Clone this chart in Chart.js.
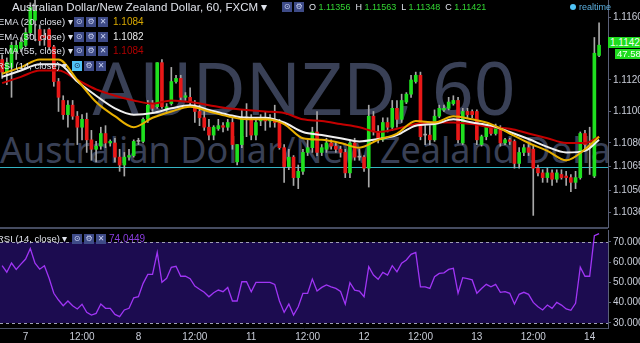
<!DOCTYPE html>
<html><head><meta charset="utf-8">
<script src="https://cdn.jsdelivr.net/npm/chart.js@4"></script>
<style>
html,body{margin:0;padding:0;background:#000;width:640px;height:343px;overflow:hidden;font-family:"Liberation Sans",Arial,sans-serif;}
#wrap{position:relative;width:640px;height:343px;overflow:hidden;background:#000}
.wm{position:absolute;left:0;width:608px;overflow:hidden;white-space:nowrap;text-align:center;color:#394056;font-family:"Noto Sans";z-index:0}
canvas{position:absolute;left:0;z-index:1}
.ov{position:absolute;z-index:3;white-space:nowrap;color:#dfe2ea;font-family:"Liberation Sans",Arial,sans-serif}
.ic{position:absolute;z-index:3;width:10px;height:10px;background:#3e4b87;color:#c8d0f0;font-family:"DejaVu Sans";font-size:8px;line-height:10px;text-align:center}
.ic.on{background:#4fc3f7;color:#1a2a4a}
.sep{position:absolute;z-index:2;background:#454b60}
.lbl{position:absolute;z-index:3;background:#1fdc1f;color:#f4fff4;font-size:10px;line-height:11px;font-family:"Liberation Sans",Arial,sans-serif}
</style></head>
<body><div id="wrap">
<div class="wm" style="top:50px;height:80px;font-size:73px;line-height:73px">AUDNZD, 60</div>
<div class="wm" style="top:132px;height:40px;font-size:36px;line-height:36px">Australian Dollar/New Zealand Dollar</div>
<canvas id="c1" width="640" height="228" style="top:0"></canvas>
<canvas id="c2" width="640" height="115" style="top:228px"></canvas>
<div class="sep" style="left:0;top:227px;width:608px;height:2px"></div>

<div class="ov" style="left:12px;top:0px;font-size:11.5px;line-height:14px">Australian Dollar/New Zealand Dollar, 60, FXCM &#9662;</div>
<div class="ic" style="left:282px;top:2px">&#8857;</div><div class="ic" style="left:294px;top:2px">&#9881;</div>
<div class="ov" style="left:309px;top:1px;font-size:9px;line-height:12px">O <span style="color:#33d633">1.11356</span>&nbsp; H <span style="color:#33d633">1.11563</span>&nbsp; L <span style="color:#33d633">1.11348</span>&nbsp; C <span style="color:#33d633">1.11421</span></div>
<div class="ov" style="left:570px;top:1px;font-size:9px;line-height:12px;color:#5bb0e0"><span style="display:inline-block;width:6px;height:6px;border-radius:3px;background:#4fc3f7;margin-right:3px"></span>realtime</div>

<div class="ov" style="left:-2px;top:16px;font-size:9.5px;line-height:12px">EMA (20, close) &#9662;</div>
<div class="ic" style="left:74px;top:17px">&#8857;</div><div class="ic" style="left:86px;top:17px">&#9881;</div><div class="ic" style="left:98px;top:17px">&#10005;</div>
<div class="ov" style="left:113px;top:16px;font-size:10px;line-height:12px;color:#d8a800">1.1084</div>

<div class="ov" style="left:-2px;top:31px;font-size:9.5px;line-height:12px">EMA (30, close) &#9662;</div>
<div class="ic" style="left:74px;top:32px">&#8857;</div><div class="ic" style="left:86px;top:32px">&#9881;</div><div class="ic" style="left:98px;top:32px">&#10005;</div>
<div class="ov" style="left:113px;top:31px;font-size:10px;line-height:12px;color:#e8e8e8">1.1082</div>

<div class="ov" style="left:-2px;top:45px;font-size:9.5px;line-height:12px">EMA (55, close) &#9662;</div>
<div class="ic" style="left:74px;top:46px">&#8857;</div><div class="ic" style="left:86px;top:46px">&#9881;</div><div class="ic" style="left:98px;top:46px">&#10005;</div>
<div class="ov" style="left:113px;top:45px;font-size:10px;line-height:12px;color:#b00000">1.1084</div>

<div class="ov" style="left:-3px;top:60px;font-size:9.5px;line-height:12px">RSI (14, close) &#9662;</div>
<div class="ic on" style="left:72px;top:61px">&#8857;</div><div class="ic" style="left:84px;top:61px">&#9881;</div><div class="ic" style="left:96px;top:61px">&#10005;</div>

<div class="ov" style="left:-3px;top:233px;font-size:9.5px;line-height:12px">RSI (14, close) &#9662;</div>
<div class="ic" style="left:72px;top:234px">&#8857;</div><div class="ic" style="left:84px;top:234px">&#9881;</div><div class="ic" style="left:96px;top:234px">&#10005;</div>
<div class="ov" style="left:109px;top:233px;font-size:10px;line-height:12px;color:#8a3ee0">74.0449</div>

<div class="lbl" style="left:608px;top:37px;width:32px;height:11px;padding-left:2px">1.1142</div>
<div class="lbl" style="left:615px;top:49px;width:25px;height:10px;font-size:9.5px;line-height:10px;padding-left:2px">47.58</div>
</div>
<script>
// ---- data (prices) ----
const opens  = [1.1133,1.1125,1.1128,1.1138,1.1140,1.1142,1.1150,1.1158,1.1152,1.1148,
 1.1152,1.1141,1.1119,1.1107,1.1098,1.1104,1.1097,1.1090,1.1095,1.1082,
 1.1076,1.1078,1.1086,1.1080,1.1080,1.1071,1.1066,1.1071,1.1072,1.1081,
 1.1081,1.1095,1.1105,1.1103,1.1131,1.1101,1.1105,1.1119,1.1121,1.1109,
 1.1109,1.1104,1.1100,1.1096,1.1090,1.1085,1.1089,1.1091,1.1090,1.1093,
 1.1068,1.1079,1.1096,1.1095,1.1085,1.1094,1.1095,1.1094,1.1095,1.1093,
 1.1077,1.1065,1.1071,1.1058,1.1062,1.1074,1.1077,1.1087,1.1074,1.1076,
 1.1080,1.1078,1.1076,1.1074,1.1061,1.1080,1.1071,1.1071,1.1064,1.1097,
 1.1087,1.1082,1.1093,1.1090,1.1102,1.1095,1.1106,1.1111,1.1119,1.1123,
 1.1085,1.1085,1.1082,1.1097,1.1101,1.1102,1.1105,1.1107,1.1080,1.1100,
 1.1100,1.1100,1.1079,1.1084,1.1090,1.1086,1.1090,1.1080,1.1082,1.1081,
 1.1067,1.1074,1.1077,1.1076,1.1064,1.1061,1.1058,1.1061,1.1057,1.1060,
 1.1059,1.1058,1.1055,1.1058,1.1086,1.1078,1.1059,1.11356];
const highs  = [1.1136,1.1134,1.1144,1.1145,1.1147,1.1153,1.1169,1.1171,1.1155,1.1152,
 1.1153,1.1142,1.1121,1.1110,1.1107,1.1107,1.1100,1.1098,1.1099,1.1088,
 1.1081,1.1090,1.1091,1.1082,1.1083,1.1076,1.1074,1.1076,1.1082,1.1083,
 1.1096,1.1107,1.1107,1.1131,1.1133,1.1105,1.1128,1.1123,1.1123,1.1112,
 1.1115,1.1107,1.1104,1.1100,1.1095,1.1091,1.1095,1.1093,1.1095,1.1096,
 1.1079,1.1101,1.1105,1.1098,1.1096,1.1098,1.1100,1.1098,1.1104,1.1095,
 1.1079,1.1076,1.1072,1.1066,1.1076,1.1082,1.1090,1.1100,1.1079,1.1083,
 1.1082,1.1080,1.1078,1.1076,1.1082,1.1083,1.1076,1.1072,1.1104,1.1100,
 1.1091,1.1096,1.1096,1.1107,1.1107,1.1111,1.1112,1.1123,1.1125,1.1125,
 1.1091,1.1091,1.1101,1.1104,1.1104,1.1109,1.1110,1.1109,1.1102,1.1102,
 1.1101,1.1101,1.1085,1.1091,1.1091,1.1092,1.1091,1.1083,1.1083,1.1082,
 1.1077,1.1079,1.1079,1.1078,1.1066,1.1063,1.1064,1.1063,1.1063,1.1063,
 1.1062,1.1060,1.1062,1.1087,1.1088,1.1090,1.1147,1.11563];
const lows   = [1.1121,1.1117,1.1109,1.1133,1.1138,1.1141,1.1148,1.1145,1.1142,1.1142,
 1.1139,1.1116,1.1100,1.1095,1.1090,1.1095,1.1079,1.1082,1.1074,1.1069,
 1.1068,1.1076,1.1077,1.1078,1.1068,1.1062,1.1059,1.1069,1.1071,1.1079,
 1.1080,1.1093,1.1100,1.1102,1.1102,1.1100,1.1104,1.1118,1.1107,1.1107,
 1.1104,1.1093,1.1091,1.1088,1.1082,1.1082,1.1088,1.1087,1.1088,1.1076,
 1.1066,1.1077,1.1084,1.1082,1.1082,1.1091,1.1088,1.1090,1.1090,1.1076,
 1.1055,1.1063,1.1053,1.1051,1.1060,1.1072,1.1074,1.1072,1.1072,1.1074,
 1.1076,1.1074,1.1071,1.1058,1.1058,1.1069,1.1069,1.1062,1.1052,1.1085,
 1.1080,1.1081,1.1087,1.1088,1.1090,1.1093,1.1105,1.1109,1.1118,1.1082,
 1.1079,1.1079,1.1081,1.1096,1.1100,1.1101,1.1104,1.1080,1.1079,1.1096,
 1.1096,1.1079,1.1078,1.1082,1.1085,1.1085,1.1078,1.1079,1.1079,1.1064,
 1.1064,1.1072,1.1072,1.1034,1.1059,1.1055,1.1055,1.1053,1.1055,1.1057,
 1.1053,1.1049,1.1051,1.1057,1.1076,1.1060,1.1058,1.11348];
const closes = [1.1125,1.1131,1.1142,1.1142,1.1144,1.1150,1.1166,1.1164,1.1145,1.1147,
 1.1141,1.1119,1.1109,1.1098,1.1104,1.1097,1.1090,1.1095,1.1082,1.1076,
 1.1078,1.1086,1.1080,1.1081,1.1071,1.1066,1.1071,1.1072,1.1081,1.1081,
 1.1095,1.1104,1.1102,1.1131,1.1103,1.1103,1.1119,1.1121,1.1109,1.1110,
 1.1106,1.1100,1.1096,1.1090,1.1085,1.1090,1.1091,1.1090,1.1093,1.1079,
 1.1079,1.1095,1.1096,1.1085,1.1093,1.1095,1.1094,1.1095,1.1093,1.1077,
 1.1065,1.1071,1.1058,1.1062,1.1074,1.1077,1.1087,1.1074,1.1077,1.1080,
 1.1078,1.1076,1.1074,1.1061,1.1080,1.1071,1.1071,1.1064,1.1097,1.1087,
 1.1082,1.1093,1.1090,1.1102,1.1095,1.1107,1.1111,1.1120,1.1123,1.1084,
 1.1085,1.1082,1.1097,1.1102,1.1102,1.1106,1.1107,1.1082,1.1100,1.1098,
 1.1098,1.1082,1.1084,1.1090,1.1086,1.1090,1.1080,1.1082,1.1081,1.1067,
 1.1074,1.1077,1.1074,1.1064,1.1061,1.1058,1.1061,1.1057,1.1061,1.1058,
 1.1058,1.1055,1.1058,1.1086,1.1079,1.1078,1.1137,1.11421];

// EMA readings, sampled at these bar indices
const emaIdx = [0,4,8,12,16,20,24,28,32,36,40,44,48,52,56,60,64,68,72,76,80,84,88,92,96,100,104,108,112,116,120,124,127];
const ema20 = [1.1124,1.1128,1.1133,1.1133,1.1120,1.1106,1.1097,1.1090,1.1096,1.1100,1.1103,1.1100,1.1097,1.1095,1.1095,1.1092,
 1.1083,1.1082,1.1080,1.1077,1.1082,1.1086,1.1094,1.1093,1.1097,1.1095,1.1092,1.1086,1.1080,1.1075,1.1069,1.1076,1.1084];
const ema30 = [1.1122,1.1126,1.1130,1.1130,1.1119,1.1110,1.1102,1.1098,1.1099,1.1102,1.1104,1.1101,1.1098,1.1096,1.1096,1.1093,
 1.1087,1.1085,1.1083,1.1081,1.10825,1.1085,1.1091,1.1092,1.1095,1.1093,1.1091,1.1087,1.10825,1.10775,1.1074,1.1075,1.1082];
const ema55 = [1.1118,1.1122,1.1126,1.1126,1.1120,1.1114,1.1110,1.1107,1.1105,1.1107,1.1106,1.1104,1.1102,1.1101,1.1100,1.1099,
 1.1095,1.1094,1.1092,1.1090,1.1087,1.1089,1.1092,1.1093,1.1093,1.1092,1.1090,1.1089,1.1086,1.1083,1.1080,1.1080,1.1084];

const rsi = [58.3,55,59.5,56.4,59,61.5,66.7,59.4,56.5,58.2,
 52,44.6,41.3,38.5,40.8,38.5,36.9,39.2,35.2,33.9,
 34.7,39.3,37.2,37.2,34.2,33.1,36.4,37.2,42.4,42.9,
 49.5,53.9,53.9,64.8,50,52,57.4,57.9,53,53,
 51.8,48.2,46.6,45.1,42.9,44.9,46.2,45.4,47.5,40.8,
 40.8,50.3,50.3,45.4,50,50,50,50,49,40.8,
 35.2,39.3,33.9,38,44.6,44.6,51.6,45.7,47.5,48.7,
 47.8,47,45.5,39.2,49.8,46.2,45.7,42.9,57.7,53.6,
 51.5,54.9,53.6,58.2,55.2,59.4,61,63.8,64.8,47.8,
 47.8,47,52.8,54.4,54.7,56.4,56.9,44.6,52.3,51.8,
 51.2,44.6,47,49,47.8,49,45.1,45.4,44.6,39.3,
 44.1,45.1,44.1,40.1,38,36.4,38.8,37.2,40.1,38.8,
 36.9,36.2,39.7,57.5,53,53,73,74.0449];

const priceTicks = [1.1160,1.1120,1.1100,1.1080,1.1065,1.1050,1.1036];
const refPrice = 1.1065;
const rsiTicks = [30,40,50,60,70];
const rsiBand = [30,70];
const timeTickIdx = [5,17,29,41,53,65,77,89,101,113,125];
const timeTickLabels = ['7','12:00','8','12:00','11','12:00','12','12:00','13','12:00','14'];

// ---- styling ----
const GREEN='#1fe01f', RED='#e81818', WICK='#a8a8a8';
const XMIN=-0.45, XMAX=128.9;
const AXIS='#5a6078', TXT='#c9cdd8';
const bars = opens.map((_,i)=>i);

const refLine = {id:'refLine', beforeDatasetsDraw(c){
  const {ctx, chartArea:a, scales:{y}} = c; const yy=Math.round(y.getPixelForValue(refPrice))+0.5;
  ctx.save(); ctx.strokeStyle='#34b4c4'; ctx.lineWidth=1; ctx.beginPath(); ctx.moveTo(a.left,yy); ctx.lineTo(a.right,yy); ctx.stroke(); ctx.restore();
}};
const band = {id:'band', beforeDatasetsDraw(c){
  const {ctx, chartArea:a, scales:{y}} = c;
  const yTop=Math.round(y.getPixelForValue(rsiBand[1])), yBot=Math.round(y.getPixelForValue(rsiBand[0]));
  ctx.save(); ctx.fillStyle='#1c0c50'; ctx.fillRect(a.left,yTop,a.right-a.left,yBot-yTop);
  ctx.strokeStyle='#a0a0b4'; ctx.lineWidth=1; ctx.setLineDash([3,3]);
  [yTop,yBot].forEach(v=>{ctx.beginPath();ctx.moveTo(a.left,v+0.5);ctx.lineTo(a.right,v+0.5);ctx.stroke();});
  ctx.restore();
}};

Chart.defaults.font.family = '"Liberation Sans", Arial, sans-serif';

new Chart(document.getElementById('c1'), {
  type:'bar',
  data:{datasets:[
    {type:'line', data: emaIdx.map((x,k)=>({x, y:ema20[k]})), borderColor:'#e8b000', borderWidth:2, pointRadius:0, cubicInterpolationMode:'monotone', order:0},
    {type:'line', data: emaIdx.map((x,k)=>({x, y:ema30[k]})), borderColor:'#f0f0f0', borderWidth:2, pointRadius:0, cubicInterpolationMode:'monotone', order:0},
    {type:'line', data: emaIdx.map((x,k)=>({x, y:ema55[k]})), borderColor:'#c40000', borderWidth:2, pointRadius:0, cubicInterpolationMode:'monotone', order:0},
    {data: bars.map(i=>({x:i, y:[opens[i], closes[i]]})),
     backgroundColor: bars.map(i=> closes[i]>opens[i]?GREEN:(closes[i]<opens[i]?RED:WICK)),
     barThickness:3, minBarLength:1, grouped:false, order:1},
    {data: bars.map(i=>({x:i, y:[lows[i], highs[i]]})), backgroundColor:WICK, barThickness:1, grouped:false, order:2}
  ]},
  options:{
    animation:false, responsive:false, maintainAspectRatio:false,
    layout:{padding:0},
    plugins:{legend:{display:false}, tooltip:{enabled:false}},
    scales:{
      x:{type:'linear', min:XMIN, max:XMAX, offset:false, display:false},
      y:{position:'right', min:1.10260, max:1.11708,
         afterFit(s){s.width=32; s.paddingTop=0; s.paddingBottom=0;},
         afterBuildTicks(s){s.ticks = priceTicks.map(v=>({value:v}));},
         ticks:{callback:v=>Number(v).toFixed(4), color:TXT, font:{size:10}, padding:2, autoSkip:false},
         grid:{drawOnChartArea:false, drawTicks:true, tickLength:3, color:AXIS},
         border:{display:true, color:AXIS, width:1}}
    }
  },
  plugins:[refLine]
});

new Chart(document.getElementById('c2'), {
  type:'line',
  data:{datasets:[{data: bars.map(i=>({x:i, y:rsi[i]})), borderColor:'#a035f5', borderWidth:1.3, pointRadius:0, tension:0}]},
  options:{
    animation:false, responsive:false, maintainAspectRatio:false,
    layout:{padding:{top:2}},
    plugins:{legend:{display:false}, tooltip:{enabled:false}},
    scales:{
      x:{type:'linear', min:XMIN, max:XMAX, offset:false,
         afterFit(s){s.height=15; s.paddingLeft=0; s.paddingRight=0;},
         afterBuildTicks(s){s.ticks = timeTickIdx.map(v=>({value:v}));},
         ticks:{callback:v=>timeTickLabels[timeTickIdx.indexOf(v)], color:TXT, font:{size:10}, padding:3, maxRotation:0, autoSkip:false},
         grid:{display:false, drawTicks:false, tickLength:0}, border:{display:true, color:'#4c5268', width:1}},
      y:{position:'right', min:27.5, max:75.8,
         afterFit(s){s.width=32; s.paddingTop=0; s.paddingBottom=0;},
         afterBuildTicks(s){s.ticks = rsiTicks.map(v=>({value:v}));},
         ticks:{callback:v=>Number(v).toFixed(4), color:TXT, font:{size:10}, padding:2, autoSkip:false},
         grid:{drawOnChartArea:false, drawTicks:true, tickLength:3, color:AXIS},
         border:{display:true, color:AXIS, width:1}}
    }
  },
  plugins:[band]
});
</script>
</body></html>
